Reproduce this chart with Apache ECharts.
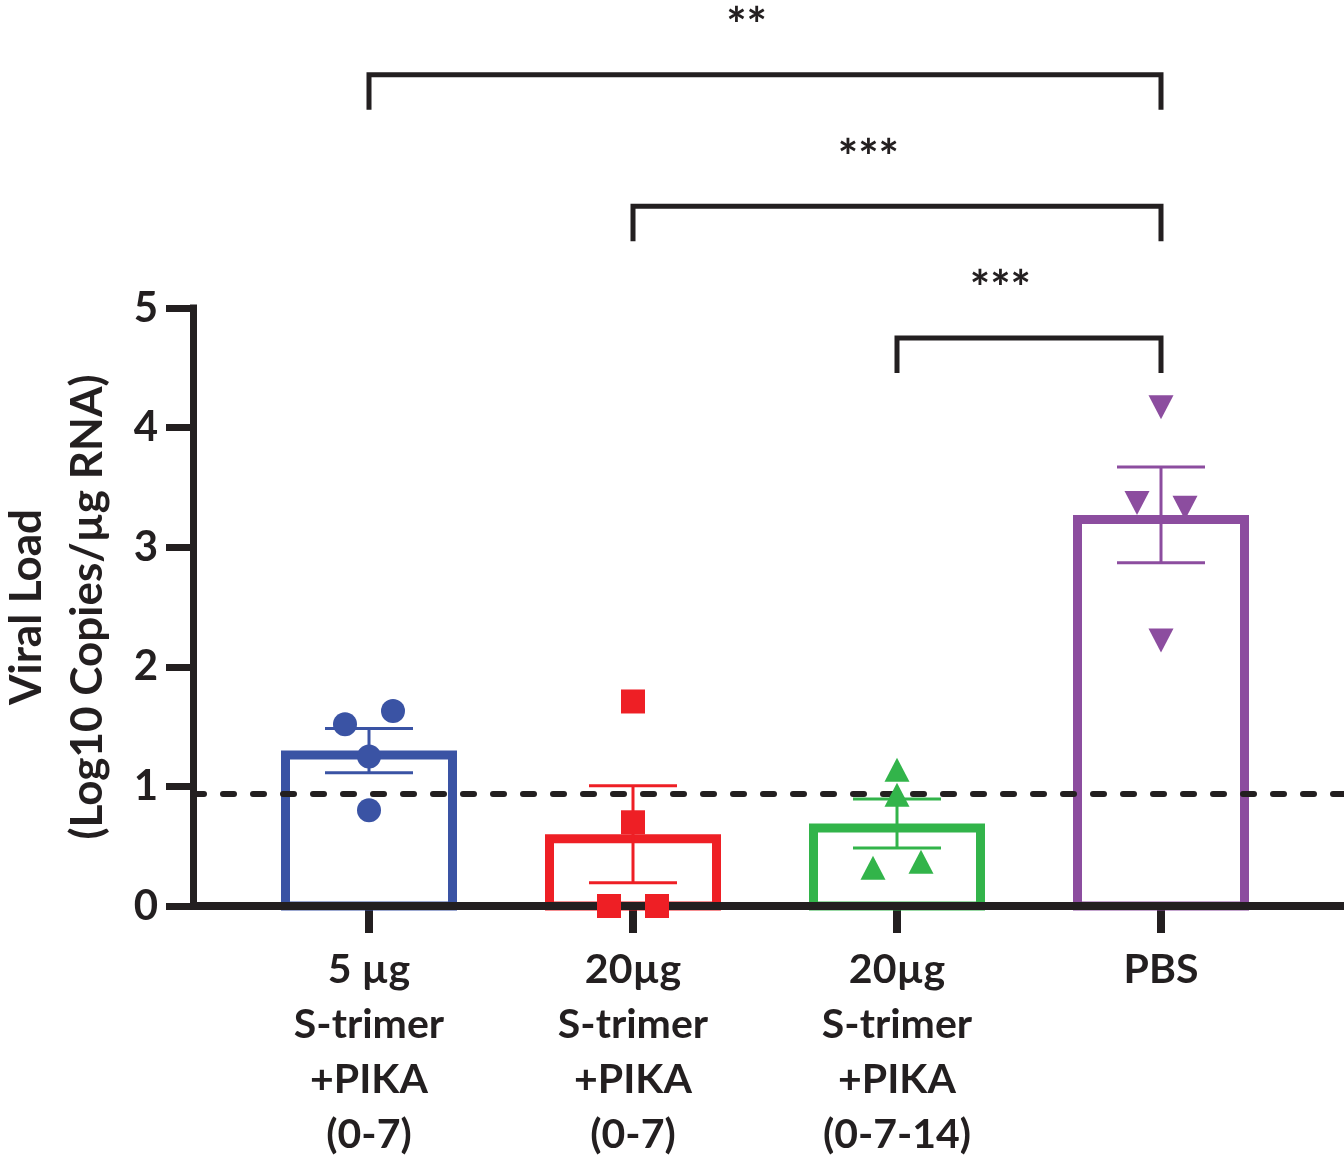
<!DOCTYPE html>
<html><head><meta charset="utf-8">
<script src="https://cdn.jsdelivr.net/npm/echarts@6/dist/echarts.min.js"></script>
<style>html,body{margin:0;padding:0;background:#fff}#c{width:1344px;height:1163px}</style>
</head><body><div id="c"></div>
<script>
// ---- data ----
const categories = ['5 µg\nS-trimer\n+PIKA\n(0-7)', '20µg\nS-trimer\n+PIKA\n(0-7)', '20µg\nS-trimer\n+PIKA\n(0-7-14)', 'PBS'];
const means = [1.30, 0.60, 0.69, 3.27];
const sems = [0.185, 0.405, 0.205, 0.40];
const points5ugPika07 = [1.52, 1.63, 1.25, 0.80];
const points20ugPika07 = [1.71, 0.70, 0.00, 0.00];
const points20ugPika0714 = [1.14, 0.93, 0.32, 0.37];
const pointsPBS = [4.17, 3.37, 3.33, 2.22];
const detectionLimit = 0.94;
const yMin = 0, yMax = 5, yStep = 1;
const comparisonFrom = [0, 1, 2];
const comparisonTo = [3, 3, 3];
const comparisonLevel = [6.95, 5.85, 4.75];
const comparisonLabel = ['**', '***', '***'];

// ---- style ----
const INK = '#231F20';
const COLORS = ['#3A53A4', '#EE1F25', '#32B44A', '#8C4D9F'];
const SYMBOLS = [['circle', 24, 0], ['rect', 24, 0], ['triangle', [25, 24], 0], ['triangle', [25, 24], 180]];
const JITTER = [[-24, 24, 0, 0], [0, 0, -24, 24], [0, 0, -24, 24], [0, -24, 24, 0]];
const FONT = 'Lato';
const groups = [points5ugPika07, points20ugPika07, points20ugPika0714, pointsPBS];

const scatterSeries = groups.map((pts, g) => ({
  type: 'scatter', xAxisIndex: 1, yAxisIndex: 1, z: 6,
  symbol: SYMBOLS[g][0], symbolSize: SYMBOLS[g][1], symbolRotate: SYMBOLS[g][2],
  itemStyle: { color: COLORS[g], opacity: 1 },
  data: pts.map((v, k) => ({ value: [g, v], symbolOffset: [JITTER[g][k], 0] })),
  silent: true
}));

const option = {
  backgroundColor: '#fff',
  animation: false,
  grid: [
    { left: 193, right: 0, top: 308, bottom: 257, containLabel: false, outerBoundsMode: 'none' },
    { left: 237, right: 51, top: 308, bottom: 257, containLabel: false, outerBoundsMode: 'none' }
  ],
  xAxis: [
    { gridIndex: 0, type: 'value', min: 0, max: 1, z: 4,
      axisLine: { show: true, onZero: false, lineStyle: { color: INK, width: 8 } },
      axisTick: { show: false }, axisLabel: { show: false }, splitLine: { show: false } },
    { gridIndex: 1, type: 'category', data: categories, boundaryGap: true,
      axisLine: { show: false },
      axisTick: { show: true, alignWithLabel: true, length: 27, lineStyle: { color: INK, width: 8 } },
      axisLabel: { interval: 0, margin: 36, color: INK, fontFamily: FONT, fontWeight: 'bold', fontSize: 41, lineHeight: 55 },
      splitLine: { show: false } }
  ],
  yAxis: [
    { gridIndex: 0, type: 'value', min: yMin, max: yMax, interval: yStep,
      axisLine: { show: true, lineStyle: { color: INK, width: 7, cap: 'square' } },
      axisTick: { show: true, length: 27, lineStyle: { color: INK, width: 7 } },
      axisLabel: { margin: 35, color: INK, fontFamily: FONT, fontWeight: 'bold', fontSize: 42 },
      splitLine: { show: false },
      name: 'Viral Load\n(Log10 Copies/µg RNA)', nameLocation: 'middle', nameGap: 75, nameRotate: 90,
      nameTextStyle: { color: INK, fontFamily: FONT, fontWeight: 'bold', fontSize: 44, lineHeight: 61 } },
    { gridIndex: 1, type: 'value', min: yMin, max: yMax, show: false }
  ],
  series: [
    { type: 'line', xAxisIndex: 0, yAxisIndex: 0, data: [], z: 3, silent: true,
      markLine: { silent: true, symbol: ['none', 'none'], label: { show: false },
        lineStyle: { type: [11, 19], cap: 'round', width: 6, color: INK },
        data: [{ yAxis: detectionLimit }] } },
    { type: 'custom', xAxisIndex: 1, yAxisIndex: 1, z: 2, silent: true,
      data: means.map((m, i) => [i, m]),
      renderItem: (params, api) => {
        const i = api.value(0), v = api.value(1);
        const top = api.coord([i, v]), base = api.coord([i, 0]);
        const bw = 9, half = 88;
        return { type: 'rect',
          shape: { x: top[0] - half + bw / 2, y: top[1] + bw / 2, width: 2 * half - bw, height: base[1] - top[1] - bw / 2 },
          style: { fill: 'rgba(0,0,0,0)', stroke: COLORS[i], lineWidth: bw } };
      } },
    { type: 'custom', xAxisIndex: 1, yAxisIndex: 1, z: 5, silent: true,
      data: means.map((m, i) => [i, m - sems[i], m + sems[i]]),
      renderItem: (params, api) => {
        const i = api.value(0);
        const a = api.coord([i, api.value(2)]), b = api.coord([i, api.value(1)]);
        const w = 44, st = { stroke: COLORS[i], lineWidth: 3 };
        return { type: 'group', children: [
          { type: 'line', shape: { x1: a[0], y1: a[1], x2: b[0], y2: b[1] }, style: st },
          { type: 'line', shape: { x1: a[0] - w, y1: a[1], x2: a[0] + w, y2: a[1] }, style: st },
          { type: 'line', shape: { x1: b[0] - w, y1: b[1], x2: b[0] + w, y2: b[1] }, style: st }
        ] };
      } },
    ...scatterSeries,
    { type: 'custom', xAxisIndex: 1, yAxisIndex: 1, z: 5, silent: true, clip: false,
      encode: { x: [0, 1], y: 2 },
      data: comparisonLevel.map((lv, k) => [comparisonFrom[k], comparisonTo[k], lv]),
      renderItem: (params, api) => {
        const k = params.dataIndex;
        const lv = api.value(2);
        const p1 = api.coord([api.value(0), lv]), p2 = api.coord([api.value(1), lv]);
        const drop = 35;
        return { type: 'group', children: [
          { type: 'polyline',
            shape: { points: [[p1[0], p1[1] + drop], [p1[0], p1[1]], [p2[0], p2[1]], [p2[0], p2[1] + drop]] },
            style: { stroke: INK, lineWidth: 5, fill: null, lineJoin: 'miter' } },
          { type: 'text',
            style: { text: comparisonLabel[k], x: (p1[0] + p2[0]) / 2 + 2, y: p1[1] - 48,
              align: 'right', verticalAlign: 'middle', fill: INK, font: 'bold 48px ' + FONT } }
        ] };
      } }
  ]
};
const chart = echarts.init(document.getElementById('c'), null, { renderer: 'canvas' });
chart.setOption(option);
</script>
</body></html>
